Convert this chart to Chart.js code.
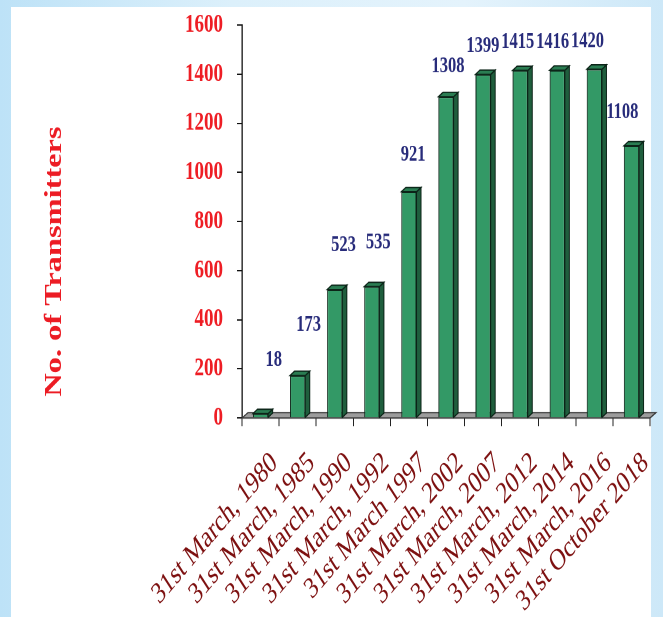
<!DOCTYPE html>
<html><head><meta charset="utf-8">
<script src="https://cdn.jsdelivr.net/npm/chart.js@4.4.1/dist/chart.umd.min.js"></script>
<style>
html,body{margin:0;padding:0;width:663px;height:617px;overflow:hidden;}
body{background:linear-gradient(to right,#bde2f7 0%,#dcf0fb 35%,#e4f3fc 70%,#cde8f8 100%);position:relative;}
#panel{position:absolute;left:11px;top:7px;width:640px;height:610px;background:#ffffff;}
#wrap{position:absolute;left:0;top:0;width:663px;height:457px;transform:scaleY(1.3501);transform-origin:0 0;}
</style></head><body>
<div id="panel"></div>
<div id="wrap"><canvas id="c" width="663" height="457"></canvas></div>
<script>
// ---- data ----
const categories = [
  "31st March, 1980","31st March, 1985","31st March, 1990","31st March, 1992",
  "31st March 1997","31st March, 2002","31st March, 2007","31st March, 2012",
  "31st March, 2014","31st March, 2016","31st October 2018"
];
const transmitters = [18,173,523,535,921,1308,1399,1415,1416,1420,1108];
const yTickValues = [0,200,400,600,800,1000,1200,1400,1600];
const yTitle = "No. of Transmitters";

// ---- style ----
const SERIF = "'Liberation Serif','Times New Roman',serif";
const DX = 4.5, DY = 3.2;      // bar depth
const FDX = 6, FDY = 4;        // floor depth

const floorPlugin = {
  id:'floor',
  beforeDatasetsDraw(chart){
    const {ctx, chartArea:a} = chart;
    const y0 = chart.scales.y.getPixelForValue(0);
    ctx.save();
    ctx.beginPath();
    ctx.moveTo(a.left, y0);
    ctx.lineTo(a.right, y0);
    ctx.lineTo(a.right+FDX, y0-FDY);
    ctx.lineTo(a.left+FDX, y0-FDY);
    ctx.closePath();
    ctx.fillStyle = '#9c9c9c';
    ctx.fill();
    ctx.lineWidth = 1;
    ctx.strokeStyle = '#3a3a3a';
    ctx.stroke();
    ctx.restore();
  }
};

const bar3dPlugin = {
  id:'bar3d',
  afterDatasetsDraw(chart){
    const {ctx} = chart;
    const meta = chart.getDatasetMeta(0);
    ctx.save();
    ctx.lineWidth = 1;
    ctx.strokeStyle = '#0c2418';
    meta.data.forEach(el=>{
      const p = el.getProps(['x','y','base','width'], true);
      const l = p.x - p.width/2, r = p.x + p.width/2, t = p.y, b = p.base;
      ctx.beginPath();
      ctx.moveTo(r, t); ctx.lineTo(r+DX, t-DY); ctx.lineTo(r+DX, b-DY); ctx.lineTo(r, b); ctx.closePath();
      ctx.fillStyle = '#1f5e3d'; ctx.fill(); ctx.stroke();
      ctx.beginPath();
      ctx.moveTo(l, t); ctx.lineTo(r, t); ctx.lineTo(r+DX, t-DY); ctx.lineTo(l+DX, t-DY); ctx.closePath();
      ctx.fillStyle = '#2a7d52'; ctx.fill(); ctx.stroke();
    });
    ctx.restore();
  }
};

const labelPlugin = {
  id:'vlabels',
  afterDraw(chart){
    const {ctx} = chart;
    const meta = chart.getDatasetMeta(0);
    const y0 = chart.scales.y.getPixelForValue(0);
    ctx.save();
    ctx.font = "bold 16.5px " + SERIF;
    ctx.fillStyle = '#272b7a';
    ctx.textAlign = 'center';
    ctx.textBaseline = 'middle';
    meta.data.forEach((el,i)=>{
      const h = y0 - el.y;
      const gap = 40 - 0.075*h;
      const dx = 0.06*(480 - el.x);
      ctx.fillText(String(transmitters[i]), el.x + dx, el.y - gap);
    });
    ctx.translate(55, 193.7);
    ctx.rotate(-Math.PI/2);
    ctx.font = "bold 24px " + SERIF;
    ctx.fillStyle = '#ec1c24';
    ctx.fillText(yTitle, 0, 0);
    ctx.restore();
  }
};

new Chart(document.getElementById('c'), {
  type:'bar',
  data:{
    labels: categories,
    datasets:[{
      data: transmitters,
      backgroundColor:'#339966',
      borderColor:'#0c2418',
      borderWidth:1,
      barPercentage:0.41,
      categoryPercentage:1.0
    }]
  },
  options:{
    responsive:false,
    animation:false,
    devicePixelRatio:2,
    layout:{padding:{left:0,right:13,top:18.5,bottom:0}},
    plugins:{legend:{display:false},tooltip:{enabled:false}},
    scales:{
      x:{
        grid:{display:true,drawOnChartArea:false,drawTicks:true,tickLength:6,color:'#222',offset:true},
        border:{display:false},
        ticks:{
          autoSkip:false,minRotation:41,maxRotation:41,labelOffset:14,padding:14,
          color:'#7d1010',font:{family:SERIF,size:22.5}
        },
        afterFit(s){ s.height = 147.4; s.paddingLeft = 0; s.paddingRight = 0; }
      },
      y:{
        min:0,max:1600,
        afterBuildTicks(s){ s.ticks = yTickValues.map(v=>({value:v})); },
        grid:{display:true,drawOnChartArea:false,drawTicks:true,tickLength:5,color:'#111'},
        border:{display:true,color:'#111',width:1.3},
        ticks:{padding:14,color:'#ee1d24',font:{family:SERIF,size:19,weight:'bold'},
          callback:(v)=>String(v)},
        afterFit(s){ s.width = 242; s.paddingTop = 0; s.paddingBottom = 0; }
      }
    }
  },
  plugins:[floorPlugin, bar3dPlugin, labelPlugin]
});
</script>
</body></html>
